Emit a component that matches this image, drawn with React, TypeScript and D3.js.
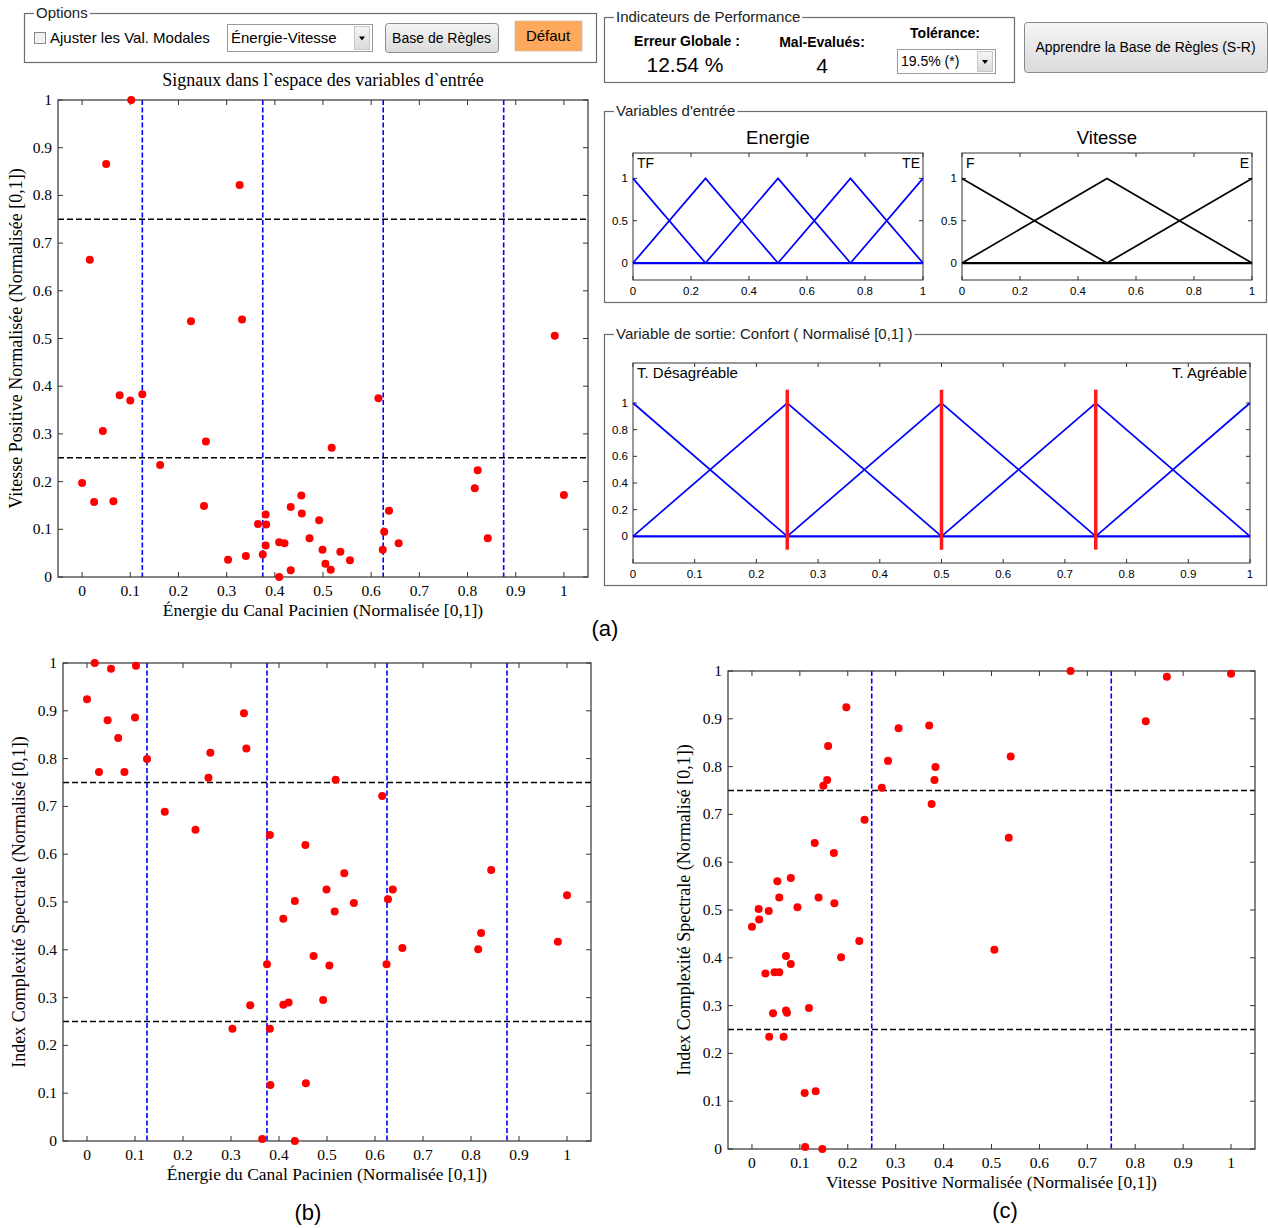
import React, { useLayoutEffect, useRef, useState } from 'react';
import * as d3 from 'd3';

// ---- Data: one entry per signal ----
const energie = [0.000,0.016,0.025,0.043,0.050,0.065,0.078,0.100,0.102,0.125,0.162,0.226,0.253,0.257,0.303,0.327,0.332,0.340,0.365,0.375,0.381,0.382,0.381,0.409,0.409,0.420,0.433,0.433,0.455,0.456,0.472,0.492,0.499,0.505,0.516,0.518,0.536,0.556,0.615,0.624,0.627,0.637,0.657,0.815,0.821,0.842,0.981,1.000];
const vitesse = [0.197,0.665,0.157,0.306,0.866,0.159,0.381,0.370,1.000,0.383,0.235,0.536,0.149,0.284,0.036,0.822,0.540,0.044,0.111,0.047,0.131,0.110,0.066,0.073,0.000,0.071,0.014,0.147,0.171,0.133,0.081,0.119,0.057,0.028,0.015,0.271,0.053,0.035,0.375,0.057,0.095,0.139,0.071,0.186,0.224,0.081,0.506,0.172];
const isc = [0.924,1.000,0.772,0.880,0.988,0.843,0.772,0.886,0.994,0.799,0.689,0.651,0.760,0.812,0.235,0.895,0.821,0.284,0.004,0.370,0.640,0.117,0.235,0.285,0.465,0.290,0.502,0.000,0.619,0.121,0.387,0.295,0.526,0.367,0.480,0.756,0.560,0.498,0.722,0.370,0.506,0.526,0.404,0.401,0.435,0.567,0.417,0.514];

const scatterTicks = [0, 0.1, 0.2, 0.3, 0.4, 0.5, 0.6, 0.7, 0.8, 0.9, 1];
const energieCuts = [0.125, 0.375, 0.625, 0.875];
const vitesseCuts = [0.25, 0.75];
const iscCuts = [0.25, 0.75];

const energieCenters = [0, 0.25, 0.5, 0.75, 1];
const vitesseCenters = [0, 0.5, 1];
const confortCenters = [0, 0.25, 0.5, 0.75, 1];
const confortRules = [0.25, 0.5, 0.75];
const mfXTicks = [0, 0.2, 0.4, 0.6, 0.8, 1];
const mfYTicks = [0, 0.5, 1];
const confortYTicks = [0, 0.2, 0.4, 0.6, 0.8, 1];

const SERIF = '"Liberation Serif", "Times New Roman", serif';
const SANS = '"Liberation Sans", Arial, sans-serif';
const fmt = (v: number) => String(+v.toFixed(2));

type Box = { l: number; r: number; t: number; b: number };

function Scatter({ box, xs, ys, vCuts, hCuts, xLabel, yLabel, yLabelX, title }: {
  box: Box; xs: number[]; ys: number[]; vCuts: number[]; hCuts: number[];
  xLabel: string; yLabel: string; yLabelX: number; title?: string;
}) {
  const x = d3.scaleLinear().domain([-0.05, 1.05]).range([box.l, box.r]);
  const y = d3.scaleLinear().domain([0, 1]).range([box.b, box.t]);
  const tl = 5;
  return (
    <g>
      {title && (
        <text x={(box.l + box.r) / 2} y={box.t - 14} textAnchor="middle" fontFamily={SERIF} fontSize={18}>{title}</text>
      )}
      {vCuts.map((c, i) => (
        <line key={'v' + i} x1={x(c)} x2={x(c)} y1={box.t} y2={box.b} stroke="#0000ff" strokeWidth={1.6} strokeDasharray="5,2.5" />
      ))}
      {hCuts.map((c, i) => (
        <line key={'h' + i} x1={box.l} x2={box.r} y1={y(c)} y2={y(c)} stroke="#000" strokeWidth={1.4} strokeDasharray="6,3" />
      ))}
      {scatterTicks.map((t, i) => (
        <g key={'t' + i}>
          <line x1={x(t)} x2={x(t)} y1={box.b} y2={box.b - tl} stroke="#333" />
          <line x1={x(t)} x2={x(t)} y1={box.t} y2={box.t + tl} stroke="#333" />
          <line x1={box.l} x2={box.l + tl} y1={y(t)} y2={y(t)} stroke="#333" />
          <line x1={box.r} x2={box.r - tl} y1={y(t)} y2={y(t)} stroke="#333" />
          <text x={x(t)} y={box.b + 19} textAnchor="middle" fontFamily={SERIF} fontSize={15.5}>{fmt(t)}</text>
          <text x={box.l - 6} y={y(t) + 5} textAnchor="end" fontFamily={SERIF} fontSize={15.5}>{fmt(t)}</text>
        </g>
      ))}
      <rect x={box.l} y={box.t} width={box.r - box.l} height={box.b - box.t} fill="none" stroke="#333" strokeWidth={1.2} />
      {xs.map((v, i) => (
        <circle key={'p' + i} cx={x(v)} cy={y(ys[i])} r={4} fill="#ff0000" />
      ))}
      <text x={(box.l + box.r) / 2} y={box.b + 39} textAnchor="middle" fontFamily={SERIF} fontSize={17.5}>{xLabel}</text>
      <text transform={`translate(${yLabelX},${(box.t + box.b) / 2}) rotate(-90)`} textAnchor="middle" fontFamily={SERIF} fontSize={18}>{yLabel}</text>
    </g>
  );
}

function triPoints(c: number, w: number): [number, number][] {
  return ([[c - w, 0], [c, 1], [c + w, 0]] as [number, number][]).filter(p => p[0] >= -1e-9 && p[0] <= 1 + 1e-9);
}

function MFPlot({ box, centers, color, xTicks, yTicks, title, leftLabel, rightLabel, rules, labelSize, titleSize }: {
  box: Box; centers: number[]; color: string; xTicks: number[]; yTicks: number[];
  title?: string; leftLabel: string; rightLabel: string; rules?: number[]; labelSize: number; titleSize?: number;
}) {
  const x = d3.scaleLinear().domain([0, 1]).range([box.l, box.r]);
  const y = d3.scaleLinear().domain([-0.2, 1.3]).range([box.b, box.t]);
  const w = centers[1] - centers[0];
  const line = d3.line<[number, number]>().x(d => x(d[0])).y(d => y(d[1]));
  const tl = 4;
  return (
    <g>
      {title && <text x={(box.l + box.r) / 2} y={box.t - 9} textAnchor="middle" fontFamily={SANS} fontSize={titleSize}>{title}</text>}
      <rect x={box.l} y={box.t} width={box.r - box.l} height={box.b - box.t} fill="#fff" stroke="#333" strokeWidth={1} />
      {xTicks.map((t, i) => (
        <g key={'x' + i}>
          <line x1={x(t)} x2={x(t)} y1={box.b} y2={box.b - tl} stroke="#333" />
          <line x1={x(t)} x2={x(t)} y1={box.t} y2={box.t + tl} stroke="#333" />
          <text x={x(t)} y={box.b + 15} textAnchor="middle" fontFamily={SANS} fontSize={11.5}>{fmt(t)}</text>
        </g>
      ))}
      {yTicks.map((t, i) => (
        <g key={'y' + i}>
          <line x1={box.l} x2={box.l + tl} y1={y(t)} y2={y(t)} stroke="#333" />
          <line x1={box.r} x2={box.r - tl} y1={y(t)} y2={y(t)} stroke="#333" />
          <text x={box.l - 5} y={y(t) + 4} textAnchor="end" fontFamily={SANS} fontSize={11.5}>{fmt(t)}</text>
        </g>
      ))}
      <line x1={x(0)} x2={x(1)} y1={y(0)} y2={y(0)} stroke={color} strokeWidth={2.2} />
      {centers.map((c, i) => (
        <path key={'m' + i} d={line(triPoints(c, w)) || ''} fill="none" stroke={color} strokeWidth={1.7} />
      ))}
      {rules && rules.map((r, i) => (
        <line key={'r' + i} x1={x(r)} x2={x(r)} y1={y(-0.1)} y2={y(1.1)} stroke="#ff1a1a" strokeWidth={3.5} />
      ))}
      <text x={box.l + 4} y={box.t + 15} fontFamily={SANS} fontSize={labelSize}>{leftLabel}</text>
      <text x={box.r - 3} y={box.t + 15} textAnchor="end" fontFamily={SANS} fontSize={labelSize}>{rightLabel}</text>
    </g>
  );
}

function GroupBox({ x, y, w, h, label }: { x: number; y: number; w: number; h: number; label: string }) {
  const ref = useRef<SVGTextElement>(null);
  const [tw, setTw] = useState(label.length * 6.8);
  useLayoutEffect(() => {
    if (ref.current) setTw(ref.current.getComputedTextLength());
  }, [label]);
  return (
    <g>
      <rect x={x + 0.5} y={y + 0.5} width={w} height={h} fill="none" stroke="#6d6d6d" strokeWidth={1.2} />
      <rect x={x + 10} y={y - 7} width={tw + 4} height={14} fill="#fff" />
      <text ref={ref} x={x + 12} y={y + 5} fontFamily={SANS} fontSize={15} fill="#222">{label}</text>
    </g>
  );
}

function Button({ x, y, w, h, label, fill, fontSize }: { x: number; y: number; w: number; h: number; label: string; fill?: string; fontSize: number }) {
  return (
    <g>
      <rect x={x + 0.5} y={y + 0.5} width={w} height={h} rx={fill ? 0 : 3} fill={fill || 'url(#btnGrad)'} stroke={fill ? '#e8e8e8' : '#8a8a8a'} strokeWidth={1} />
      <text x={x + w / 2} y={y + h / 2 + 5} textAnchor="middle" fontFamily={SANS} fontSize={fontSize}>{label}</text>
    </g>
  );
}

function Dropdown({ x, y, w, h, label, fontSize }: { x: number; y: number; w: number; h: number; label: string; fontSize: number }) {
  return (
    <g>
      <rect x={x + 0.5} y={y + 0.5} width={w} height={h} fill="#fff" stroke="#9a9a9a" />
      <text x={x + 4} y={y + h / 2 + 5} fontFamily={SANS} fontSize={fontSize}>{label}</text>
      <rect x={x + w - 17.5} y={y + 2.5} width={15} height={h - 4} fill="url(#btnGrad)" stroke="#c8c8c8" />
      <path d={`M${x + w - 13},${y + h / 2 - 1} l6,0 l-3,4 z`} fill="#000" />
    </g>
  );
}

export default function App() {
  const boxA: Box = { l: 58, r: 588, t: 100, b: 577 };
  const boxB: Box = { l: 63, r: 591, t: 663, b: 1141 };
  const boxC: Box = { l: 728, r: 1255, t: 671, b: 1149 };
  return (
    <svg width={1268} height={1228} style={{ position: 'absolute', left: 0, top: 0, background: '#fff' }}>
      <defs>
        <linearGradient id="btnGrad" x1="0" x2="0" y1="0" y2="1">
          <stop offset="0" stopColor="#f6f6f6" />
          <stop offset="1" stopColor="#dadada" />
        </linearGradient>
      </defs>
      <rect x={0} y={0} width={1268} height={1228} fill="#fff" />

      {/* Options panel */}
      <GroupBox x={24} y={13} w={572} h={49} label="Options" />
      <rect x={34.5} y={32.5} width={11} height={11} fill="#f2f2f2" stroke="#8a8a8a" />
      <text x={50} y={43} fontFamily={SANS} fontSize={15}>Ajuster les Val. Modales</text>
      <Dropdown x={227} y={24} w={145} h={27} label="Énergie-Vitesse" fontSize={15} />
      <Button x={385} y={23} w={113} h={29} label="Base de Règles" fontSize={14} />
      <Button x={514} y={20} w={68} h={31} label="Défaut" fill="#ffa95e" fontSize={15} />

      {/* Performance panel */}
      <GroupBox x={604} y={17} w={410} h={65} label="Indicateurs de Performance" />
      <text x={687} y={46} textAnchor="middle" fontFamily={SANS} fontSize={14} fontWeight="bold">Erreur Globale :</text>
      <text x={685} y={72} textAnchor="middle" fontFamily={SANS} fontSize={21}>12.54 %</text>
      <text x={822} y={47} textAnchor="middle" fontFamily={SANS} fontSize={14} fontWeight="bold">Mal-Evalués:</text>
      <text x={822} y={73} textAnchor="middle" fontFamily={SANS} fontSize={21}>4</text>
      <text x={945} y={38} textAnchor="middle" fontFamily={SANS} fontSize={14} fontWeight="bold">Tolérance:</text>
      <Dropdown x={897} y={49} w={98} h={24} label="19.5% (*)" fontSize={14} />
      <Button x={1024} y={22} w={243} h={50} label="Apprendre la Base de Règles (S-R)" fontSize={14} />

      {/* Input variables */}
      <GroupBox x={604} y={111} w={662} h={191} label="Variables d'entrée" />
      <MFPlot box={{ l: 633, r: 923, t: 153, b: 280 }} centers={energieCenters} color="#0000ff" xTicks={mfXTicks} yTicks={mfYTicks}
        title="Energie" titleSize={18.5} leftLabel="TF" rightLabel="TE" labelSize={14} />
      <MFPlot box={{ l: 962, r: 1252, t: 153, b: 280 }} centers={vitesseCenters} color="#000" xTicks={mfXTicks} yTicks={mfYTicks}
        title="Vitesse" titleSize={18.5} leftLabel="F" rightLabel="E" labelSize={14} />

      {/* Output variable */}
      <GroupBox x={604} y={334} w={662} h={251} label="Variable de sortie: Confort ( Normalisé  [0,1] )" />
      <MFPlot box={{ l: 633, r: 1250, t: 363, b: 563 }} centers={confortCenters} color="#0000ff" xTicks={scatterTicks} yTicks={confortYTicks}
        leftLabel="T. Désagréable" rightLabel="T. Agréable" rules={confortRules} labelSize={15} />

      {/* Scatter (a) */}
      <Scatter box={boxA} xs={energie} ys={vitesse} vCuts={energieCuts} hCuts={vitesseCuts}
        title="Signaux dans l`espace des variables d`entrée"
        xLabel="Énergie du Canal Pacinien (Normalisée [0,1])" yLabel="Vitesse Positive Normalisée (Normalisée [0,1])" yLabelX={22} />
      {/* Scatter (b) */}
      <Scatter box={boxB} xs={energie} ys={isc} vCuts={energieCuts} hCuts={iscCuts}
        xLabel="Énergie du Canal Pacinien (Normalisée [0,1])" yLabel="Index Complexité Spectrale (Normalisé [0,1])" yLabelX={25} />
      {/* Scatter (c) */}
      <Scatter box={boxC} xs={vitesse} ys={isc} vCuts={vitesseCuts} hCuts={iscCuts}
        xLabel="Vitesse Positive Normalisée (Normalisée [0,1])" yLabel="Index Complexité Spectrale (Normalisé [0,1])" yLabelX={690} />

      <text x={605} y={636} textAnchor="middle" fontFamily={SANS} fontSize={22}>(a)</text>
      <text x={308} y={1220} textAnchor="middle" fontFamily={SANS} fontSize={22}>(b)</text>
      <text x={1005} y={1218} textAnchor="middle" fontFamily={SANS} fontSize={22}>(c)</text>
    </svg>
  );
}
